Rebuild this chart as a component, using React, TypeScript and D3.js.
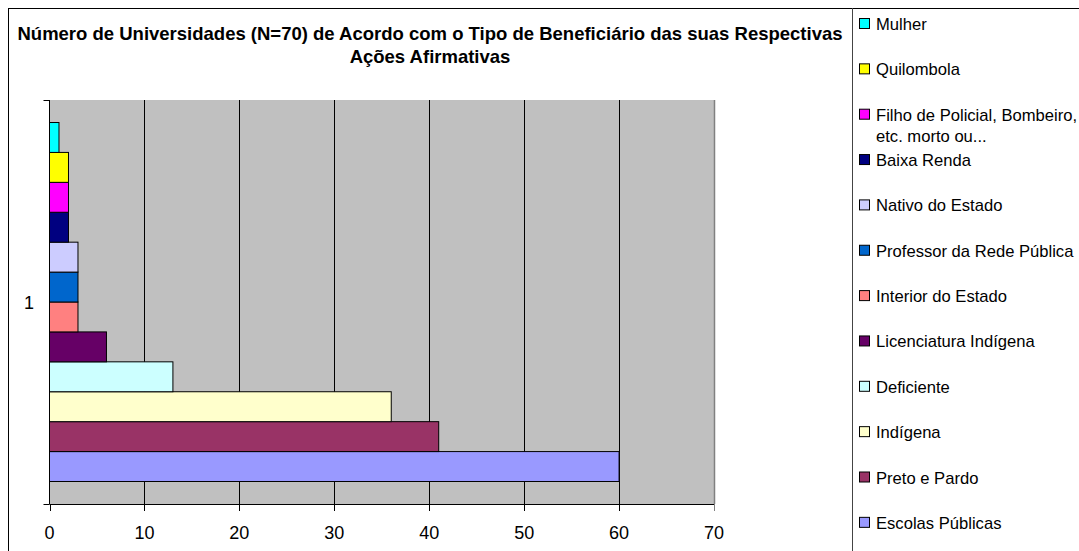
import React from "react";
import * as d3 from "d3";

const categories = ["1"];
const seriesNames = [
  "Escolas Públicas",
  "Preto e Pardo",
  "Indígena",
  "Deficiente",
  "Licenciatura Indígena",
  "Interior do Estado",
  "Professor da Rede Pública",
  "Nativo do Estado",
  "Baixa Renda",
  "Filho de Policial, Bombeiro, etc. morto ou...",
  "Quilombola",
  "Mulher",
];
const seriesValues = [60, 41, 36, 13, 6, 3, 3, 3, 2, 2, 2, 1];
const seriesColors = [
  "#9999FF",
  "#993366",
  "#FFFFCC",
  "#CCFFFF",
  "#660066",
  "#FF8080",
  "#0066CC",
  "#CCCCFF",
  "#000080",
  "#FF00FF",
  "#FFFF00",
  "#00FFFF",
];
const xTicks = [0, 10, 20, 30, 40, 50, 60, 70];
const titleLines = [
  "Número de Universidades (N=70) de Acordo com o Tipo de Beneficiário das suas Respectivas",
  "Ações Afirmativas",
];

const FONT = "'Liberation Sans', Arial, sans-serif";
const TITLE_FS = 18.5;
const AXIS_FS = 18;
const LEGEND_FS = 16.6;

export default function App() {
  const W = 1079;
  const H = 551;
  const plot = { left: 49.5, right: 714, top: 100, bottom: 504 };

  const x = d3.scaleLinear().domain([0, 70]).range([plot.left, plot.right]);
  const yCat = d3
    .scaleBand<string>()
    .domain(categories)
    .range([plot.top, plot.bottom])
    .paddingInner(0)
    .paddingOuter(0.0627);
  const topToBottom = seriesNames.slice().reverse();
  const ySer = d3
    .scaleBand<string>()
    .domain(topToBottom)
    .range([0, yCat.bandwidth()]);

  const legendX = 852;
  const legendY0 = 24;
  const legendStep = 45.35;

  const wrap = (s: string) => {
    const i = s.indexOf(", etc.");
    if (i >= 0) return [s.slice(0, i + 1), s.slice(i + 2)];
    return [s];
  };

  return (
    <svg
      width={W}
      height={H}
      style={{ position: "absolute", left: 0, top: 0, background: "#fff" }}
      fontFamily={FONT}
    >
      {/* outer frame */}
      <line x1={8} y1={8.5} x2={W} y2={8.5} stroke="#000" strokeWidth={1} />
      <line x1={8.5} y1={8} x2={8.5} y2={H} stroke="#000" strokeWidth={1} />
      <line x1={852.5} y1={8} x2={852.5} y2={H} stroke="#444" strokeWidth={1} />

      {/* title */}
      {titleLines.map((t, i) => (
        <text
          key={i}
          x={430}
          y={40 + i * 22.5}
          textAnchor="middle"
          fontWeight="bold"
          fontSize={TITLE_FS}
          fill="#000"
        >
          {t}
        </text>
      ))}

      {/* plot background */}
      <rect
        x={plot.left}
        y={plot.top}
        width={plot.right - plot.left}
        height={plot.bottom - plot.top}
        fill="#C0C0C0"
      />
      {/* gridlines */}
      {xTicks.slice(1, -1).map((t) => (
        <line
          key={t}
          x1={Math.round(x(t)) + 0.5}
          x2={Math.round(x(t)) + 0.5}
          y1={plot.top}
          y2={plot.bottom}
          stroke="#000"
          strokeWidth={1}
        />
      ))}
      <line
        x1={plot.right + 0.5}
        x2={plot.right + 0.5}
        y1={plot.top}
        y2={plot.bottom}
        stroke="#808080"
        strokeWidth={1.5}
      />

      {/* bars */}
      {categories.map((c) =>
        seriesNames.map((s, i) => {
          const y = (yCat(c) as number) + (ySer(s) as number);
          return (
            <rect
              key={c + s}
              x={x(0)}
              y={y}
              width={x(seriesValues[i]) - x(0)}
              height={ySer.bandwidth()}
              fill={seriesColors[i]}
              stroke="#000"
              strokeWidth={1}
            />
          );
        })
      )}

      {/* y axis */}
      <line x1={plot.left} x2={plot.left} y1={plot.top} y2={plot.bottom} stroke="#000" strokeWidth={1} />
      <line x1={plot.left - 6} x2={plot.left} y1={plot.top + 0.5} y2={plot.top + 0.5} stroke="#000" />
      <line x1={plot.left - 6} x2={plot.left} y1={plot.bottom + 0.5} y2={plot.bottom + 0.5} stroke="#000" />
      {categories.map((c) => (
        <text
          key={c}
          x={34}
          y={(yCat(c) as number) + yCat.bandwidth() / 2 + 6.5}
          textAnchor="end"
          fontSize={AXIS_FS}
          fill="#000"
        >
          {c}
        </text>
      ))}

      {/* x axis */}
      <line x1={plot.left} x2={plot.right} y1={plot.bottom + 0.5} y2={plot.bottom + 0.5} stroke="#000" strokeWidth={1} />
      {xTicks.map((t) => (
        <g key={t}>
          <line
            x1={Math.round(x(t)) + 0.5}
            x2={Math.round(x(t)) + 0.5}
            y1={plot.bottom}
            y2={plot.bottom + 7}
            stroke={t === 70 ? "#808080" : "#000"}
          />
          <text x={x(t)} y={538.5} textAnchor="middle" fontSize={AXIS_FS} fill="#000">
            {t}
          </text>
        </g>
      ))}

      {/* legend */}
      {topToBottom.map((s, i) => {
        const idx = seriesNames.indexOf(s);
        const cy = legendY0 + i * legendStep;
        const lines = wrap(s);
        return (
          <g key={s}>
            <rect
              x={legendX + 7.5}
              y={cy - 5.5}
              width={10}
              height={10}
              fill={seriesColors[idx]}
              stroke="#000"
              strokeWidth={1}
            />
            {lines.map((ln, j) => (
              <text
                key={j}
                x={legendX + 24}
                y={cy + 6 + j * 21}
                fontSize={LEGEND_FS}
                fill="#000"
              >
                {ln}
              </text>
            ))}
          </g>
        );
      })}
    </svg>
  );
}
